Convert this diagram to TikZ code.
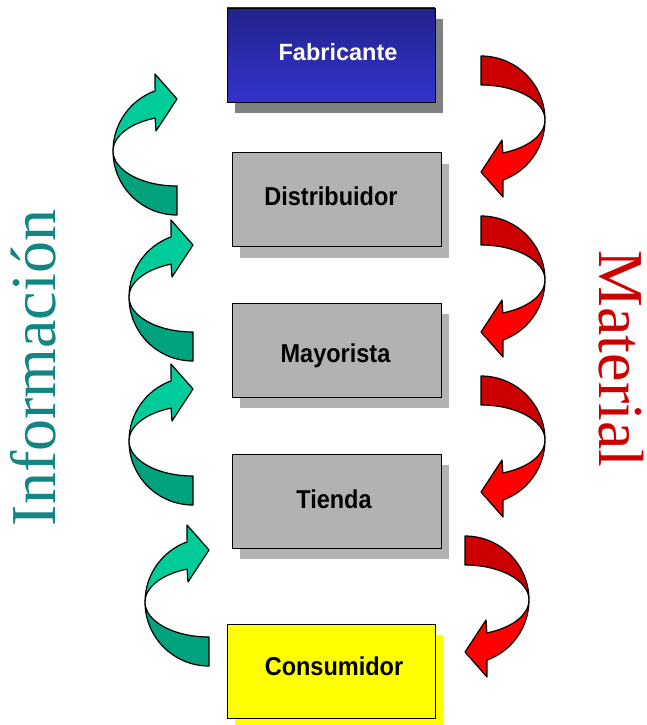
\documentclass[tikz,border=0pt]{standalone}
\usepackage{fontspec}
\setmainfont{Liberation Serif}
\newfontfamily\boxfont{Liberation Sans}
\usetikzlibrary{shadows}
\definecolor{reddark}{RGB}{204,0,0}
\definecolor{redbright}{RGB}{255,0,0}
\definecolor{greenlight}{RGB}{0,204,153}
\definecolor{greendark}{RGB}{0,163,124}
\definecolor{fabtop}{RGB}{34,34,140}
\definecolor{fabbot}{RGB}{51,51,204}
\definecolor{boxgray}{RGB}{178,178,178}
\definecolor{shadegray}{RGB}{128,128,128}
\definecolor{boxyellow}{RGB}{255,255,0}
\definecolor{tealtext}{RGB}{19,133,133}
\definecolor{redtext}{RGB}{204,0,0}
\newcommand\flowarrow[5]{%
  \begin{scope}[shift={(#1,#2)}, rotate=#3]
    \filldraw[arrowline, fill=#4] (0,-64) arc[start angle=-90, end angle=0, x radius=64, y radius=64]
      arc[start angle=0, end angle=-90, x radius=64, y radius=35] -- cycle;
    \filldraw[arrowline, fill=#5] (64,0) arc[start angle=0, end angle=70, x radius=64, y radius=64]
      -- (22,77) -- (0,52) -- (21,20) -- (21.89,32.89)
      arc[start angle=70, end angle=0, x radius=64, y radius=35] -- cycle;
  \end{scope}}
\newcommand\tallbox[1]{\scalebox{1}[1.1]{#1}}
\begin{document}
\begin{tikzpicture}[x=1pt,y=-1pt,
  arrowline/.style={draw=black, line width=1.2pt, line join=round},
  box/.style={draw=black, line width=0.8pt, minimum width=209pt, minimum height=94pt, inner sep=0pt},
  shade/.style={drop shadow={shadow xshift=8pt, shadow yshift=-11pt, opacity=1, fill=#1}},
  boxtxt/.style={font=\boxfont\bfseries\fontsize{23.5}{28}\selectfont, anchor=base, inner sep=0pt},
  bigtxt/.style={font=\fontsize{64}{70}\selectfont, anchor=base, inner sep=0pt, text height=44pt, text depth=0pt}]
\useasboundingbox (0,0) rectangle (646,725);
% material arrows
\flowarrow{481}{120}{0}{reddark}{redbright}
\flowarrow{481}{280}{0}{reddark}{redbright}
\flowarrow{481}{440}{0}{reddark}{redbright}
\flowarrow{465}{600}{0}{reddark}{redbright}
% information arrows
\flowarrow{177}{151}{180}{greendark}{greenlight}
\flowarrow{193}{297}{180}{greendark}{greenlight}
\flowarrow{193}{441}{180}{greendark}{greenlight}
\flowarrow{209}{602}{180}{greendark}{greenlight}
% boxes
\node[box, minimum width=208pt, top color=fabtop, bottom color=fabbot, shade=shadegray] (fab) at (331,55) {};
\node[box, fill=boxgray, shade=boxgray] (dis) at (336.5,199.5) {};
\node[box, fill=boxgray, shade=boxgray] (may) at (336.5,350) {};
\node[box, fill=boxgray, shade=boxgray] (tie) at (336.5,501) {};
\node[box, minimum width=208pt, fill=boxyellow, shade=boxyellow] (con) at (331,671) {};
% box texts
\node[boxtxt, text=white] (tfab) at ([shift={(7,5)}]fab.center) {Fabricante};
\node[boxtxt] (tdis) at ([shift={(-5.5,6)}]dis.center) {\tallbox{Distribuidor}};
\node[boxtxt] (tmay) at ([shift={(-1,12)}]may.center) {\tallbox{Mayorista}};
\node[boxtxt] (ttie) at ([shift={(-2.5,7)}]tie.center) {\tallbox{Tienda}};
\node[boxtxt] (tcon) at ([shift={(3,4)}]con.center) {\tallbox{Consumidor}};
% side labels
\node[bigtxt, text=tealtext, rotate=90] (info) at (55,368) {Información};
\node[bigtxt, text=redtext, rotate=-90] (mat) at (599,359) {Material};
\end{tikzpicture}
\end{document}
